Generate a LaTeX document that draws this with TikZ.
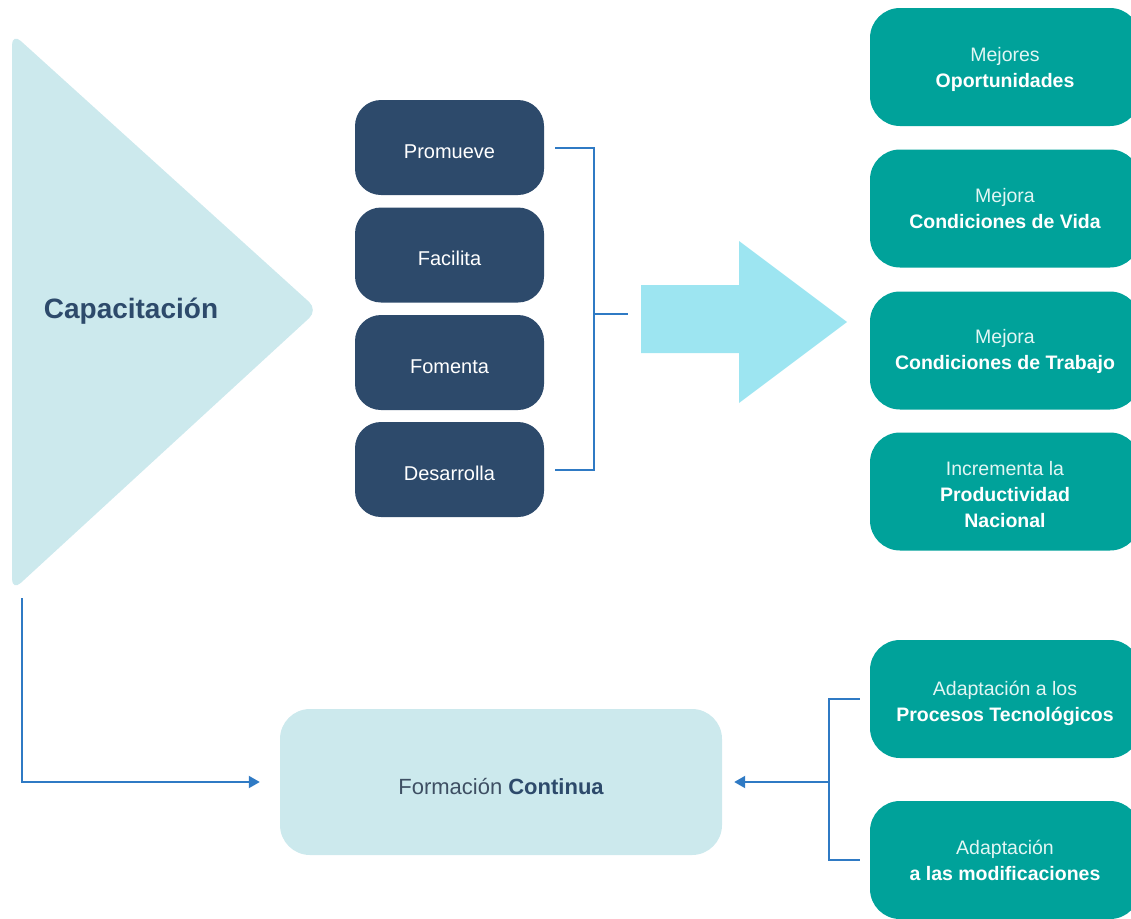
\documentclass[tikz,border=0pt]{standalone}
\usepackage{fontspec}
\setmainfont{Liberation Sans}
\usetikzlibrary{arrows.meta}
\definecolor{navy}{HTML}{2D4A6B}
\definecolor{teal1}{HTML}{00A29A}
\definecolor{pale}{HTML}{CCE9ED}
\definecolor{bigarrow}{HTML}{9DE5F1}
\definecolor{linkblue}{HTML}{2F7AC4}
\definecolor{softwhite}{HTML}{E2F6F4}
\definecolor{slate}{HTML}{3E4F63}
\newcommand{\dn}[2]{\raisebox{-#1pt}[0pt][0pt]{\begin{tabular}{@{}c@{}}#2\end{tabular}}}
\tikzset{
  navybox/.style={fill=navy, rounded corners=26pt, minimum width=189pt, minimum height=95pt, text=white, font=\fontsize{20}{24}\selectfont, inner sep=0pt},
  tealbox/.style={fill=teal1, rounded corners=30pt, minimum width=270pt, minimum height=118pt, text=white, font=\fontsize{19.5}{26}\selectfont, inner sep=0pt},
  link/.style={draw=linkblue, line width=2pt},
  tip/.style={-{Triangle[width=12pt,length=11pt]}}
}
\begin{document}
\begin{tikzpicture}[x=1pt,y=-1pt]
\useasboundingbox (0,0) rectangle (1131,918);
\clip (0,0) rectangle (1131,918);
% big triangle
\fill[pale, rounded corners=12pt] (12,33) -- (318,310) -- (12,591) -- cycle;
\node[text=navy, font=\fontsize{28}{32}\selectfont\bfseries, inner sep=0pt] (cap) at (131,308) {\dn{10.6}{Capacitación}};
\coordinate (tribot) at (22,598);
% navy boxes
\node[navybox] (p1) at (449.5,147.5) {\dn{10.9}{Promueve}};
\node[navybox] (p2) at (449.5,255) {\dn{10.9}{Facilita}};
\node[navybox] (p3) at (449.5,362.5) {\dn{10.9}{Fomenta}};
\node[navybox] (p4) at (449.5,469.5) {\dn{10.9}{Desarrolla}};
% bracket
\coordinate (j) at (594,314);
\coordinate (jend) at (628,314);
\draw[link] ([xshift=11pt]p1.east) -| (j) |- ([xshift=11pt]p4.east);
\draw[link] (j) -- (jend);
% big arrow
\fill[bigarrow] (641,285) -- (739,285) -- (739,241) -- (847,322) -- (739,403) -- (739,353) -- (641,353) -- cycle;
% teal boxes
\node[tealbox] (t1) at (1005,67) {\dn{7.7}{\textcolor{softwhite}{Mejores}\\\bfseries Oportunidades}};
\node[tealbox] (t2) at (1005,208.5) {\dn{6.7}{\textcolor{softwhite}{Mejora}\\\bfseries Condiciones de Vida}};
\node[tealbox] (t3) at (1005,350.5) {\dn{5.7}{\textcolor{softwhite}{Mejora}\\\bfseries Condiciones de Trabajo}};
\node[tealbox] (t4) at (1005,491.5) {\dn{10.2}{\textcolor{softwhite}{Incrementa la}\\\bfseries Productividad\\\bfseries Nacional}};
\node[tealbox] (t5) at (1005,699) {\dn{9.7}{\textcolor{softwhite}{Adaptación a los}\\\bfseries Procesos Tecnológicos}};
\node[tealbox] (t6) at (1005,860) {\dn{7.2}{\textcolor{softwhite}{Adaptación}\\\bfseries a las modificaciones}};
% formacion continua
\node[fill=pale, rounded corners=30pt, minimum width=442pt, minimum height=146pt, font=\fontsize{22}{26}\selectfont, inner sep=0pt] (fc) at (501,782) {\dn{12.2}{\textcolor{slate}{Formación} \textcolor{navy}{\bfseries Continua}}};
% connectors
\draw[link, tip] (tribot) |- ([xshift=-20pt]fc.west);
\coordinate (k) at (829,782);
\draw[link] ([xshift=-10pt]t5.west) -| (k) |- ([xshift=-10pt]t6.west);
\draw[link, tip] (k) -- ([xshift=12pt]fc.east);
\end{tikzpicture}
\end{document}
